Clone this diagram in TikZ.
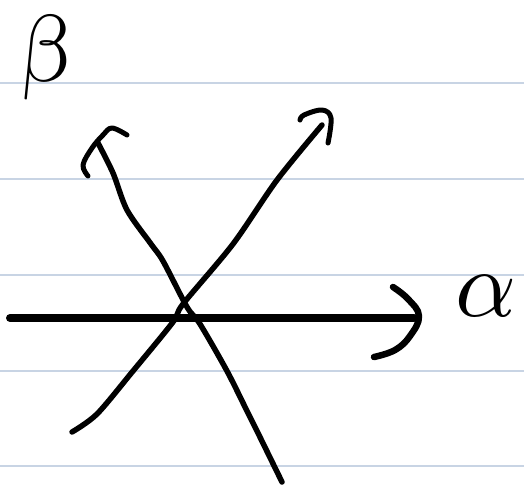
\documentclass[tikz,border=0pt]{standalone}
\begin{document}
\begin{tikzpicture}[x=1pt,y=-1pt,
  rule/.style={draw={rgb,255:red,200;green,212;blue,228},line width=1.6pt},
  stroke/.style={draw=black,line width=5.5pt,line cap=round,line join=round},
  axisstroke/.style={draw=black,line width=8pt,line cap=round,line join=round},
  letter/.style={inner sep=0pt,scale=9.5}]
\useasboundingbox (0,0) rectangle (524,488);
\fill[white] (0,0) rectangle (524,488);
% ruled paper
\foreach \yy in {83,179,275,371,466} \draw[rule] (0,\yy) -- (524,\yy);
% coordinates
\coordinate (axL) at (10,318);
\coordinate (axR) at (414,318);
% horizontal axis with hand-drawn head
\draw[axisstroke] (axL) -- (axR);
\draw[stroke,line width=6.5pt] plot[smooth,tension=0.7] coordinates {(393,287) (408,299) (419,316) (410,336) (395,350) (374,357)};
% rising line (lower-left to upper-right)
\draw[stroke] plot[smooth,tension=0.5] coordinates {(72,432) (97,414) (133,371) (173,322) (183,304) (233,244) (277,180) (322,125)};
\draw[stroke,line width=5pt] plot[smooth,tension=0.6] coordinates {(300,120) (304,115) (322,110) (331,118) (328,143)};
% falling line (upper-left to lower-right)
\draw[stroke] plot[smooth,tension=0.5] coordinates {(98,143) (113,173) (127,210) (151,244) (163,261) (187,307) (200,324) (227,371) (247,411) (257,431) (282,482)};
\draw[stroke,line width=5pt] plot[smooth,tension=0.6] coordinates {(88,176) (83,165) (92,148) (103,135) (112,128) (127,135)};
% labels
\node[letter,xslant=-0.15] (beta) at (45,58) {$\beta$};
\node[letter] (alpha) at (486,296) {$\alpha$};
\end{tikzpicture}
\end{document}
